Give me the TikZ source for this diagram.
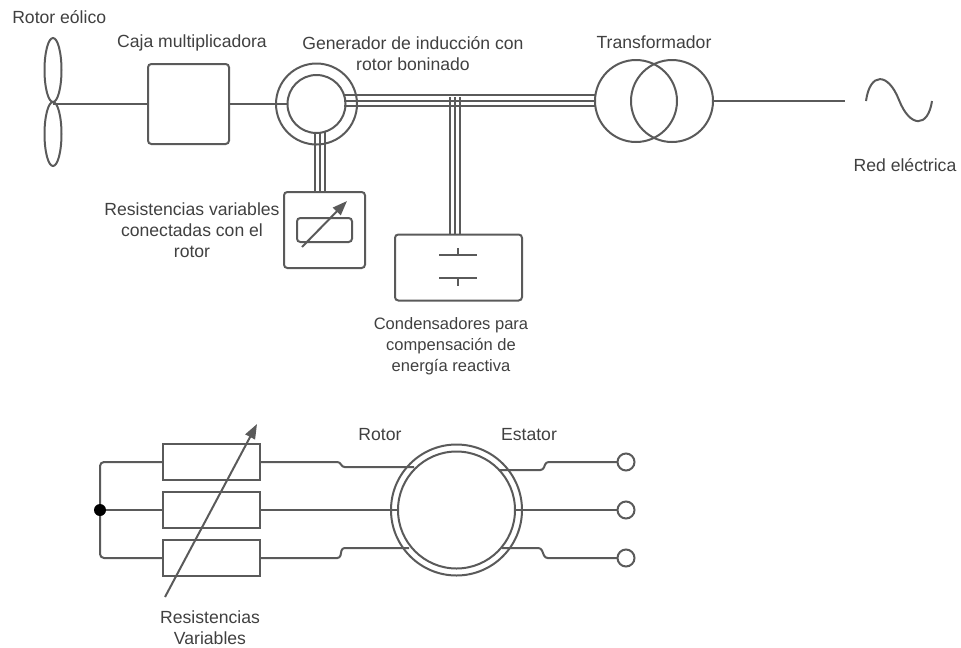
\documentclass[tikz,border=0pt]{standalone}
\usepackage{fontspec}
\setmainfont{Liberation Sans}
\usetikzlibrary{arrows.meta,calc,shapes.geometric}
\definecolor{ln}{HTML}{5A5A5A}
\definecolor{tx}{HTML}{404040}
\tikzset{
  px/.style={x=0.75pt,y=-0.75pt},
  wire/.style={draw=ln,line width=1.5pt},
  thin wire/.style={draw=ln,line width=0.9pt},
  ring/.style={circle,draw=ln,line width=1.5pt,inner sep=0pt,outer sep=0pt,minimum size=#1*0.75pt},
  blade/.style={ellipse,draw=ln,line width=1.5pt,inner sep=0pt,outer sep=0pt},
  box/.style={rectangle,rounded corners=2.5pt,draw=ln,line width=1.5pt,inner sep=0pt,outer sep=0pt,minimum width=#1},
  res/.style={rectangle,draw=ln,line width=1.5pt,inner sep=0pt,outer sep=0pt,minimum width=72.75pt,minimum height=27pt},
  lab/.style={text=tx,font=\fontsize{13.2pt}{15.6pt}\selectfont,align=center,inner sep=0pt},
  adjust/.style={draw=ln,line width=1.5pt,-{Triangle[length=11pt,width=8pt]}}
}
\begin{document}
\begin{tikzpicture}[px]
\useasboundingbox (0,0) rectangle (961,647);
% Top row
\node[blade,minimum width=12.75pt,minimum height=48pt] (b1) at (53,70) {};
\node[blade,minimum width=12.75pt,minimum height=48pt] (b2) at (53,134) {};
\node[box=60.75pt,minimum height=60pt] (gear) at (188.5,104) {};
\node[ring=81] (genout) at (316.5,104) {};
\node[ring=58] (genin) at (316.5,104) {};
\node[ring=82] (trA) at (636,101) {};
\node[ring=82] (trB) at (672,101) {};
\node[box=60.75pt,minimum height=57pt] (rbox) at (324.5,230) {};
\node[box=41.25pt,minimum height=18pt] (rin) at (324.5,230) {};
\node[box=95.25pt,minimum height=49.5pt] (cbox) at (458.5,267.5) {};
\coordinate (hub) at (53,104);
\coordinate (gridend) at (845,101);
\draw[wire] (hub) -- (gear.west);
\draw[wire] (gear.east) -- (genin.west);
% three-phase bus to transformer
\foreach \y/\n in {95/a,101/b,106/c}{
  \coordinate (g\n) at (344,\y);
  \coordinate (t\n) at (596,\y);
  \draw[wire] (g\n) -- (t\n);
}
% to capacitor box
\foreach \x/\n in {450/a,455/b,460/c}{
  \coordinate (ct\n) at (\x,97);
  \draw[wire] (ct\n) -- (ct\n |- cbox.north);
}
% to resistor box
\foreach \x/\n in {315/a,320/b,325/c}{
  \coordinate (rt\n) at (\x,132);
  \draw[wire] (rt\n) -- (rt\n |- rbox.north);
}
\draw[wire] (trB.east) -- (gridend);
\draw[adjust] (302,247) -- (347,201);
% capacitor
\coordinate (cp1) at (458,255);
\coordinate (cp2) at (458,278);
\draw[thin wire] ($(cp1)+(-19,0)$) -- ($(cp1)+(19,0)$);
\draw[thin wire] (cp1) -- ++(0,-7);
\draw[thin wire] ($(cp2)+(-19,0)$) -- ($(cp2)+(19,0)$);
\draw[thin wire] (cp2) -- ++(0,8);
% source
\coordinate (sa) at (866,101);
\draw[wire] (sa) .. controls (870,72) and (888,72) .. (899,100) .. controls (910,128) and (928,128) .. (932,101);
% Top labels
\node[lab,anchor=west] (l1) at (12,17) {Rotor eólico};
\node[lab] (l2) at (192,43) {Caja multiplicadora};
\node[lab] (l3) at (413,54) {Generador de inducción con\\rotor boninado};
\node[lab] (l4) at (654,42) {Transformador};
\node[lab] (l5) at (905,165) {Red eléctrica};
\node[lab] (l6) at (192,230) {Resistencias variables\\conectadas con el\\rotor};
\node[lab,font=\fontsize{12.4pt}{15.6pt}\selectfont] (l7) at (451,346) {Condensadores para\\compensación de\\energía reactiva};
% Bottom
\node[res] (r1) at (211.5,462) {};
\node[res] (r2) at (211.5,510) {};
\node[res] (r3) at (211.5,558) {};
\node[ring=131] (mo) at (456.5,510) {};
\node[ring=117] (mi) at (456.5,510) {};
\coordinate (jc) at (100,510);
\node[ring=17] (o1) at (626,462) {};
\node[ring=17] (o2) at (626,510) {};
\node[ring=17] (o3) at (626,558) {};
\draw[wire,rounded corners=3pt] (r1.west) -| (jc) |- (r3.west);
\draw[wire] (jc) -- (r2.west);
\node[circle,fill=black,inner sep=0pt,minimum size=9pt] (jn) at (jc) {};
\draw[wire,rounded corners=2pt] (r1.east) -- (340,462) -- (342,467) -- (414,467);
\draw[wire] (r2.east) -- (mi.west);
\draw[wire,rounded corners=2pt] (r3.east) -- (340,558) -- (342,548) -- (409,548);
\draw[wire,rounded corners=2pt] (499,470) -- (543,470) -- (546,462) -- (o1.west);
\draw[wire] (mi.east) -- (o2.west);
\draw[wire,rounded corners=2pt] (502,548) -- (541,548) -- (545,558) -- (o3.west);
\coordinate (as) at (165,597);
\coordinate (ae) at (257,424);
\draw[adjust] (as) -- (ae);
\node[lab] (l8) at (380,435) {Rotor};
\node[lab] (l9) at (529,435) {Estator};
\node[lab] (l10) at (210,627.5) {Resistencias\\Variables};
\end{tikzpicture}
\end{document}
